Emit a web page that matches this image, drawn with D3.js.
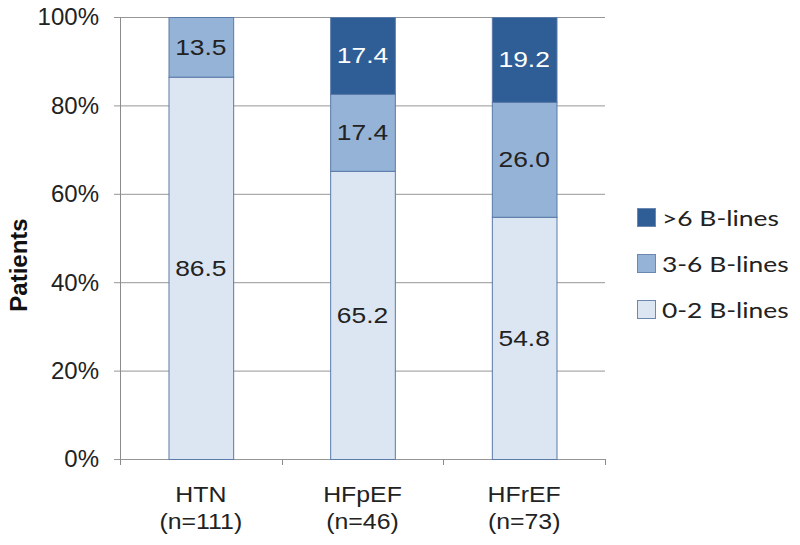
<!DOCTYPE html>
<html>
<head>
<meta charset="utf-8">
<script src="https://cdn.jsdelivr.net/npm/d3@7"></script>
<style>
  body { margin: 0; background: #fff; }
  svg text { font-family: "Liberation Sans", Arial, sans-serif; }
</style>
</head>
<body>
<div id="chart"></div>
<script>
// data
var groups = ["HTN", "HFpEF", "HFrEF"];
var groupN = ["(n=111)", "(n=46)", "(n=73)"];
var low = [86.5, 65.2, 54.8];     // 0-2 B-lines
var mid = [13.5, 17.4, 26.0];     // 3-6 B-lines
var high = [0, 17.4, 19.2];       // >6 B-lines
var seriesNames = ["0-2 B-lines", "3-6 B-lines", ">6 B-lines"];
var yTicks = [0, 20, 40, 60, 80, 100];

var colors = ["#dce6f2", "#95b3d7", "#2f5d95"];
var labelColors = ["#222", "#222", "#fff"];

var margin = {top: 17, right: 195, bottom: 86, left: 120},
    width = 800 - margin.left - margin.right,
    height = 545 - margin.top - margin.bottom;

var svg = d3.select("#chart").append("svg")
    .attr("width", 800)
    .attr("height", 545);

var g = svg.append("g")
    .attr("transform", "translate(" + margin.left + "," + margin.top + ")");

var x = d3.scaleBand().domain(groups).range([0, width]).paddingInner(0.6).paddingOuter(0.3);
var y = d3.scaleLinear().domain([0, 100]).range([height, 0]);

// text stretched sideways like the source picture
function wideText(parent, tx, ty, sx, str) {
    return parent.append("text")
        .attr("transform", "translate(" + tx + "," + ty + ") scale(" + sx + ",1)")
        .text(str);
}

// gridlines
g.selectAll(".grid").data(yTicks).enter().append("line")
    .attr("class", "grid")
    .attr("x1", -6).attr("x2", width)
    .attr("y1", function(d) { return y(d) + 0.5; })
    .attr("y2", function(d) { return y(d) + 0.5; })
    .attr("stroke", "#969696")
    .attr("stroke-width", 1);

// y axis line
g.append("line")
    .attr("x1", 0.5).attr("x2", 0.5)
    .attr("y1", 0).attr("y2", height)
    .attr("stroke", "#8c8c8c");

// x tick marks (between categories)
var step = width / groups.length;
g.selectAll(".xtick").data(d3.range(groups.length + 1)).enter().append("line")
    .attr("x1", function(i) { return Math.round(i * step) + 0.5; })
    .attr("x2", function(i) { return Math.round(i * step) + 0.5; })
    .attr("y1", height).attr("y2", height + 6)
    .attr("stroke", "#8c8c8c");

// y tick labels
g.selectAll(".ylab").data(yTicks).enter().append("text")
    .attr("x", -21)
    .attr("y", function(d) { return y(d); })
    .attr("dy", "0.35em")
    .attr("text-anchor", "end")
    .style("font-size", "24px")
    .attr("fill", "#222")
    .text(function(d) { return d + "%"; });

// stack
var table = groups.map(function(d, i) {
    return {group: d, s0: low[i], s1: mid[i], s2: high[i]};
});
var stack = d3.stack().keys(["s0", "s1", "s2"])(table);

stack.forEach(function(layer, li) {
    var layerG = g.append("g");
    layerG.selectAll("rect").data(layer).enter().append("rect")
        .filter(function(d) { return d[1] - d[0] > 0; })
        .attr("x", function(d) { return x(d.data.group) + 0.5; })
        .attr("y", function(d) { return y(d[1]) + 0.5; })
        .attr("width", x.bandwidth())
        .attr("height", function(d) { return y(d[0]) - y(d[1]); })
        .attr("fill", colors[li])
        .attr("stroke", "#5a7aa8")
        .attr("stroke-width", 1);
    layer.forEach(function(d) {
        if (d[1] - d[0] <= 0) return;
        wideText(layerG, x(d.data.group) + x.bandwidth() / 2, y((d[0] + d[1]) / 2), 1.2, (d[1] - d[0]).toFixed(1))
            .attr("dy", "0.35em")
            .attr("text-anchor", "middle")
            .style("font-size", "22px")
            .attr("fill", labelColors[li]);
    });
});

// category labels
groups.forEach(function(d, i) {
    var cx = x(d) + x.bandwidth() / 2;
    wideText(g, cx, height + 43, 1.13, d)
        .attr("text-anchor", "middle")
        .style("font-size", "22px")
        .attr("fill", "#222");
    wideText(g, cx, height + 70, 1.13, groupN[i])
        .attr("text-anchor", "middle")
        .style("font-size", "22px")
        .attr("fill", "#222");
});

// y title
svg.append("text")
    .attr("transform", "translate(27,265) rotate(-90)")
    .attr("text-anchor", "middle")
    .style("font-size", "24px")
    .style("font-weight", "bold")
    .attr("fill", "#111")
    .text("Patients");

// legend
var legendY = [310, 264, 218];
seriesNames.forEach(function(name, i) {
    var lg = svg.append("g").attr("transform", "translate(637," + legendY[i] + ")");
    lg.append("rect")
        .attr("x", 0.5).attr("y", -9.5)
        .attr("width", 18).attr("height", 18)
        .attr("fill", colors[i])
        .attr("stroke", "#6d88b0");
    wideText(lg, 25, 0, 1.2, name)
        .attr("dy", "0.35em")
        .style("font-family", "Lato, sans-serif")
        .style("font-size", "22px")
        .attr("fill", "#222");
});
</script>
</body>
</html>
